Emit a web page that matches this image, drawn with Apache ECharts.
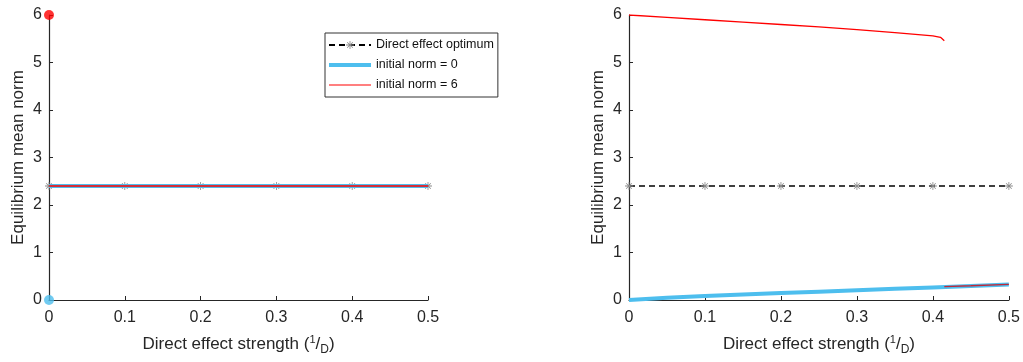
<!DOCTYPE html>
<html>
<head>
<meta charset="utf-8">
<script src="https://cdn.jsdelivr.net/npm/echarts@6/dist/echarts.min.js"></script>
<style>
  html, body { margin: 0; padding: 0; background: #fff; }
  #chart { width: 1023px; height: 362px; }
</style>
</head>
<body>
<div id="chart"></div>
<script>
// Direct effect strength values (1/D)
const strength = [0, 0.05, 0.1, 0.15, 0.2, 0.25, 0.3, 0.35, 0.4, 0.45, 0.5];
const markerStrength = [0, 0.1, 0.2, 0.3, 0.4, 0.5];
const optimum = 2.4;

// Left panel: equilibria reached at every strength
const leftNorm0 = [2.4, 2.4, 2.4, 2.4, 2.4, 2.4, 2.4, 2.4, 2.4, 2.4, 2.4];
const leftNorm6 = [2.4, 2.4, 2.4, 2.4, 2.4, 2.4, 2.4, 2.4, 2.4, 2.4, 2.4];
const leftStart0 = [0, 0];
const leftStart6 = [0, 6];

// Right panel: equilibria from each initial norm
const rightNorm0X = [0, 0.05, 0.1, 0.15, 0.2, 0.25, 0.3, 0.35, 0.4, 0.45, 0.5];
const rightNorm0Y = [0, 0.045, 0.085, 0.115, 0.145, 0.175, 0.205, 0.235, 0.265, 0.295, 0.325];
const rightNorm6UpperX = [0, 0.05, 0.1, 0.15, 0.2, 0.25, 0.3, 0.35, 0.4, 0.41, 0.415];
const rightNorm6UpperY = [6.0, 5.95, 5.9, 5.85, 5.8, 5.75, 5.69, 5.63, 5.56, 5.53, 5.46];
const rightNorm6LowerX = [0.415, 0.45, 0.5];
const rightNorm6LowerY = [0.28, 0.3, 0.33];

const BLUE = '#4DBEEE';
const RED = '#FF0000';
const INK = '#262626';
const FONT = 'Liberation Sans';

// asterisk marker (8 arms)
const star = 'path://M0,4.5L10,4.5L10,5.5L0,5.5Z M4.5,0L5.5,0L5.5,10L4.5,10Z M1.1,1.8L1.8,1.1L8.9,8.2L8.2,8.9Z M8.2,1.1L8.9,1.8L1.8,8.9L1.1,8.2Z';
// legend swatches drawn in a 42x10 box (corner specks pin the box size)
const box = 'M0,0L0.01,0L0.01,0.01Z M42,9.99L42,10L41.99,10Z ';
const thickIcon = 'path://' + box + 'M0,3L42,3L42,7L0,7Z';
const thinIcon = 'path://' + box + 'M0,4.4L42,4.4L42,5.6L0,5.6Z';

const zip = (xs, ys) => xs.map((x, i) => [x, ys[i]]);

function xAxis(idx) {
  return {
    gridIndex: idx, type: 'value', min: 0, max: 0.5, interval: 0.1,
    axisLine: { show: true, onZero: false, lineStyle: { color: INK, width: 1.2 } },
    axisTick: { show: true, inside: true, length: 4, lineStyle: { color: INK } },
    splitLine: { show: false },
    axisLabel: { color: INK, fontSize: 16, fontFamily: FONT, margin: 10,
      formatter: v => (v === 0 ? '0' : String(+v.toFixed(1))) },
    name: '{t|Direct effect strength (}{sup|1}{t|/}{sub|D}{t|)}',
    nameLocation: 'middle', nameGap: 33,
    nameTextStyle: {
      color: INK, fontFamily: FONT,
      rich: {
        t: { fontSize: 17, fontFamily: FONT, color: INK },
        sup: { fontSize: 11, fontFamily: FONT, color: INK, padding: [0, 0, 9, 0] },
        sub: { fontSize: 12, fontFamily: FONT, color: INK, padding: [11, 0, 0, 0] }
      }
    }
  };
}
function yAxis(idx) {
  return {
    gridIndex: idx, type: 'value', min: 0, max: 6, interval: 1,
    axisLine: { show: true, lineStyle: { color: INK, width: 1.2 } },
    axisTick: { show: true, inside: true, length: 4, lineStyle: { color: INK } },
    splitLine: { show: false },
    axisLabel: { color: INK, fontSize: 16, fontFamily: FONT, margin: 7 },
    name: 'Equilibrium mean norm', nameLocation: 'middle', nameGap: 22,
    nameTextStyle: { color: INK, fontSize: 17, fontFamily: FONT }
  };
}

const optimumLine = idx => ({
  name: 'Direct effect optimum', type: 'line', xAxisIndex: idx, yAxisIndex: idx,
  data: markerStrength.map(x => [x, optimum]),
  symbol: star, symbolSize: 8, showSymbol: true,
  itemStyle: { color: '#8a8a8a' },
  lineStyle: { color: '#000', width: 1.4, type: [6, 4] },
  silent: true, z: 2
});

const option = {
  animation: false,
  grid: [
    { left: 49, top: 15, width: 379, height: 285, containLabel: false },
    { left: 629, top: 15, width: 380, height: 285, containLabel: false }
  ],
  xAxis: [xAxis(0), xAxis(1)],
  yAxis: [yAxis(0), yAxis(1)],
  legend: {
    data: [
      { name: 'Direct effect optimum' },
      { name: 'initial norm = 0', icon: thickIcon },
      { name: 'initial norm = 6', icon: thinIcon }
    ],
    orient: 'vertical', left: 325, top: 33,
    itemWidth: 42, itemHeight: 10, itemGap: 6,
    symbolKeepAspect: false,
    padding: [5, 4, 5, 3],
    backgroundColor: '#fff', borderColor: '#333', borderWidth: 1, borderRadius: 0,
    textStyle: { color: '#111', fontSize: 12.5, lineHeight: 14, fontFamily: FONT }
  },
  series: [
    optimumLine(0),
    { name: 'initial norm = 0', type: 'line', xAxisIndex: 0, yAxisIndex: 0,
      data: zip(strength, leftNorm0), showSymbol: false, symbol: 'none',
      lineStyle: { color: BLUE, width: 4 }, itemStyle: { color: BLUE }, z: 3 },
    { name: 'initial norm = 6', type: 'line', xAxisIndex: 0, yAxisIndex: 0,
      data: zip(strength, leftNorm6), showSymbol: false, symbol: 'none',
      lineStyle: { color: RED, width: 1.3 }, itemStyle: { color: RED }, z: 4 },
    { name: 'start0', type: 'scatter', xAxisIndex: 0, yAxisIndex: 0,
      data: [leftStart0], symbolSize: 10, clip: false,
      itemStyle: { color: BLUE }, z: 5 },
    { name: 'start6', type: 'scatter', xAxisIndex: 0, yAxisIndex: 0,
      data: [leftStart6], symbolSize: 10, clip: false,
      itemStyle: { color: RED }, z: 5 },

    optimumLine(1),
    { name: 'initial norm = 0', type: 'line', xAxisIndex: 1, yAxisIndex: 1,
      data: zip(rightNorm0X, rightNorm0Y), showSymbol: false, symbol: 'none',
      lineStyle: { color: BLUE, width: 4 }, itemStyle: { color: BLUE }, z: 3 },
    { name: 'initial norm = 6', type: 'line', xAxisIndex: 1, yAxisIndex: 1,
      data: zip(rightNorm6UpperX, rightNorm6UpperY), showSymbol: false, symbol: 'none',
      lineStyle: { color: RED, width: 1.3 }, itemStyle: { color: RED }, z: 4 },
    { name: 'initial norm = 6 (lower)', type: 'line', xAxisIndex: 1, yAxisIndex: 1,
      data: zip(rightNorm6LowerX, rightNorm6LowerY), showSymbol: false, symbol: 'none',
      lineStyle: { color: '#c0283a', width: 1.3 }, z: 4 }
  ]
};

const chart = echarts.init(document.getElementById('chart'), null, { renderer: 'canvas' });
chart.setOption(option);
</script>
</body>
</html>
